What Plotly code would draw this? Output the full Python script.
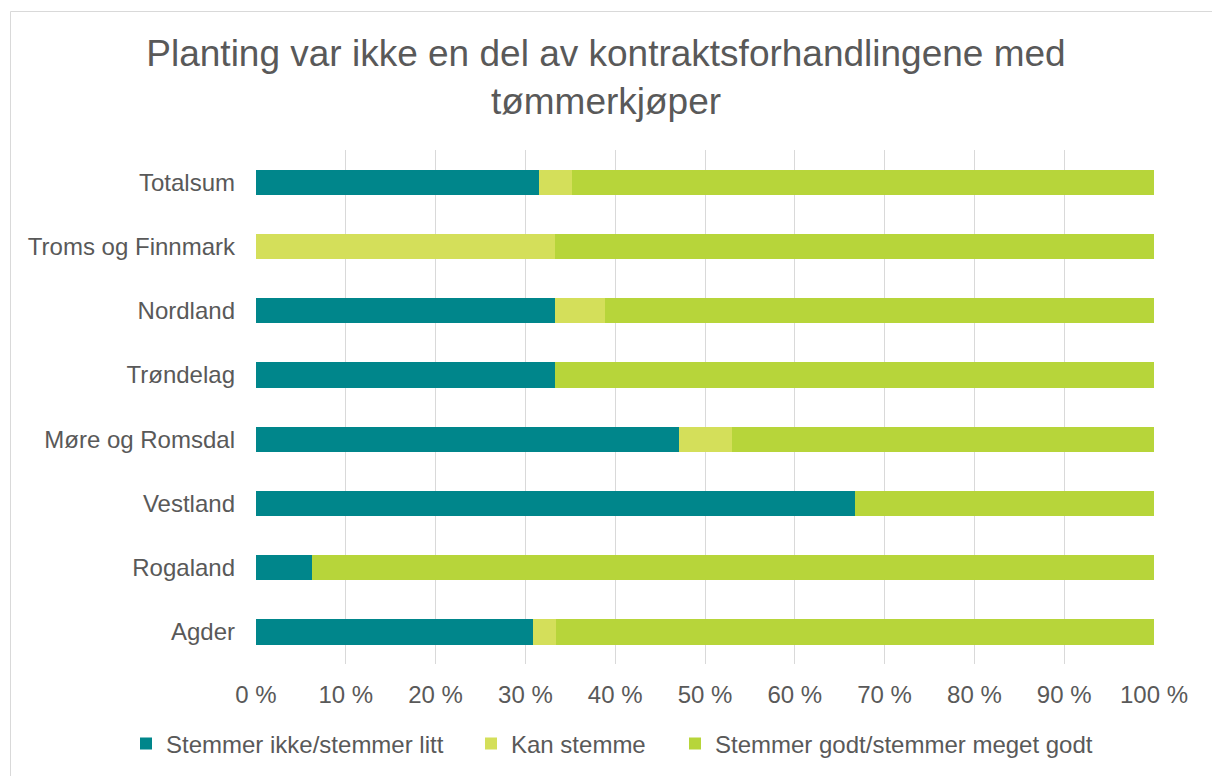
import plotly.graph_objects as go

categories = ["Totalsum", "Troms og Finnmark", "Nordland", "Trøndelag",
              "Møre og Romsdal", "Vestland", "Rogaland", "Agder"]
ikke = [31.5, 0.0, 33.3, 33.3, 47.1, 66.7, 6.2, 30.8]
kan = [3.7, 33.3, 5.6, 0.0, 5.9, 0.0, 0.0, 2.6]
godt = [64.8, 66.7, 61.1, 66.7, 47.0, 33.3, 93.8, 66.6]
series_names = ["Stemmer ikke/stemmer litt", "Kan stemme", "Stemmer godt/stemmer meget godt"]
series_colors = ["#00868B", "#D4DF5A", "#B7D53A"]
tick_vals = [0, 10, 20, 30, 40, 50, 60, 70, 80, 90, 100]
tick_labels = ["0 %", "10 %", "20 %", "30 %", "40 %", "50 %", "60 %", "70 %", "80 %", "90 %", "100 %"]

TXT = "#595959"
FONT = "Liberation Sans, Arial, sans-serif"

W, H = 1212, 776
L, R, T, B = 256, 58, 150, 112
pw, ph = W - L - R, H - T - B

legend_ids = ["legend", "legend2", "legend3"]
legend_text_x = [166, 511, 715]   # pixel where each legend label begins
TEXT_OFFSET = 40

fig = go.Figure()
for name, vals, col, lid in zip(series_names, [ikke, kan, godt], series_colors, legend_ids):
    fig.add_trace(go.Bar(
        y=categories, x=vals, name=name, orientation="h",
        marker=dict(color=col, line=dict(width=0)),
        hoverinfo="x+y+name", legend=lid,
    ))

legend_layout = {}
for lid, tx in zip(legend_ids, legend_text_x):
    legend_layout[lid] = dict(
        orientation="h", x=(tx - TEXT_OFFSET) / W, xref="container", xanchor="left",
        y=1 - 744 / H, yref="container", yanchor="middle",
        font=dict(size=24, color=TXT, family=FONT),
        itemclick=False, itemdoubleclick=False, bgcolor="rgba(0,0,0,0)",
    )

fig.update_layout(
    width=W, height=H,
    barmode="stack", bargap=0.607,
    paper_bgcolor="white", plot_bgcolor="white",
    margin=dict(l=L, r=R, t=T, b=B, autoexpand=False),
    font=dict(family=FONT, color=TXT, size=24),
    title=dict(
        text="Planting var ikke en del av kontraktsforhandlingene med<br>tømmerkjøper",
        font=dict(family=FONT, size=37, color=TXT),
        x=0.5, xref="container", xanchor="center",
        y=1 - 66 / H, yref="container", yanchor="top",
    ),
    xaxis=dict(
        range=[0, 100], tickmode="array", tickvals=tick_vals, ticktext=tick_labels,
        showgrid=True, gridcolor="#D9D9D9", gridwidth=1,
        zeroline=False, showline=False, ticks="",
        tickfont=dict(size=24, color=TXT), ticklabelstandoff=14,
        fixedrange=True,
    ),
    yaxis=dict(
        autorange="reversed", showgrid=False, zeroline=False,
        showline=False, ticks="",
        tickfont=dict(size=24, color=TXT), ticklabelstandoff=20,
    ),
    showlegend=True,
    shapes=[dict(
        type="rect", xref="paper", yref="paper", layer="below",
        x0=(10.5 - L) / pw, x1=1.2, y0=-0.5, y1=(H - B - 11.5) / ph,
        line=dict(color="#D9D9D9", width=1), fillcolor="rgba(0,0,0,0)",
    )],
    **legend_layout,
)

fig.write_html("out.html", config={"displayModeBar": False},
               post_script="document.body.style.margin='0';")
